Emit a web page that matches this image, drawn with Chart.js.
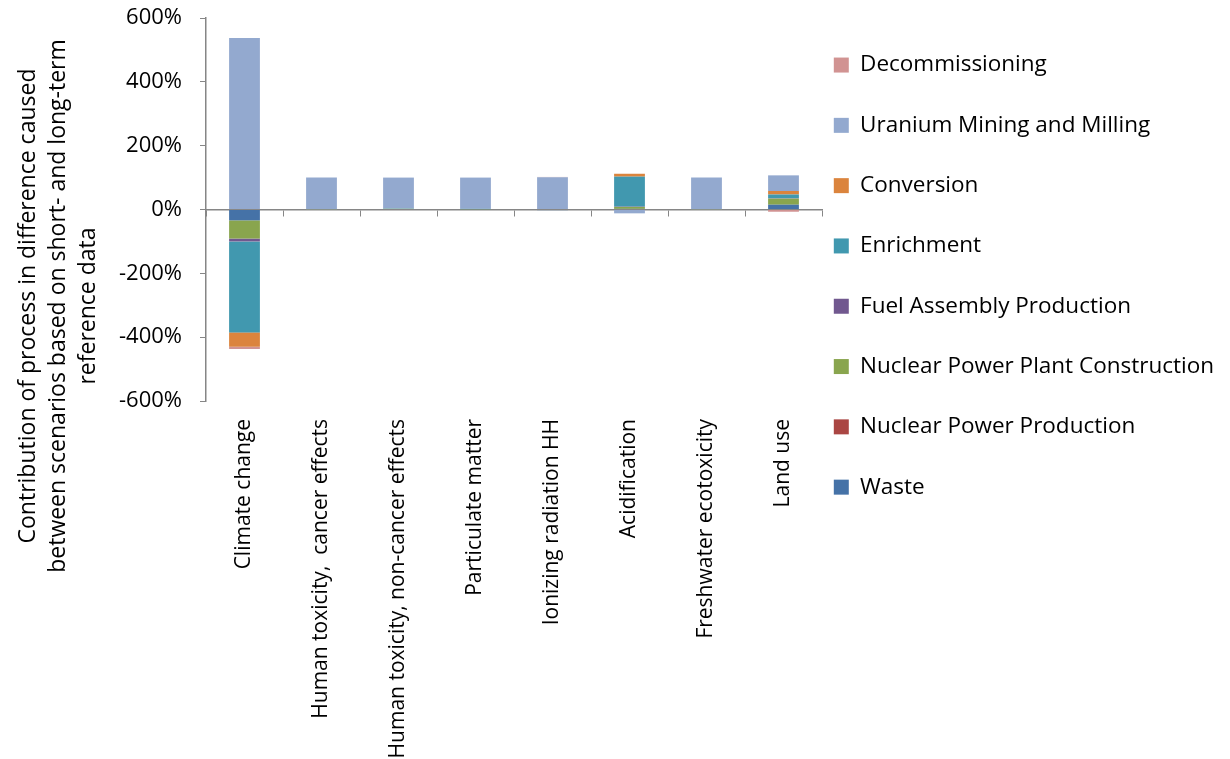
<!DOCTYPE html>
<html>
<head>
<meta charset="utf-8">
<script src="https://cdn.jsdelivr.net/npm/chart.js@4.4.1/dist/chart.umd.min.js"></script>
<style>
  html, body { margin: 0; padding: 0; background: #fff; }
  #wrap { width: 1230px; height: 759px; position: relative; }
</style>
</head>
<body>
<div id="wrap"><canvas id="chart"></canvas></div>
<script>
const categories = [
  'Climate change',
  'Human toxicity,  cancer effects',
  'Human toxicity, non-cancer effects',
  'Particulate matter',
  'Ionizing radiation HH',
  'Acidification',
  'Freshwater ecotoxicity',
  'Land use'
];

// values in %, one array per process (stack order bottom -> top)
const waste          = [-34, 0, 0, 0, -2,  2,  0, 15];
const powerProd      = [  0, 0, 0, 0,  0,  0,  0,  0];
const plantConstr    = [-57, 1, 2, 1,  0,  6,  1, 19];
const fuelAssembly   = [ -9, 0, 0, 0,  0,  1,  0,  1];
const enrichment     = [-285, 0, 1, 1, 0, 94,  0, 12];
const conversion     = [-45, 0, 0, 0,  0,  9,  0, 11];
const uraniumMining  = [537, 99, 97, 98, 101, -12, 99, 49];
const decommissioning= [ -7, 0, 0, 0,  1,  0,  0, -7];

const yTicks = [-600, -400, -200, 0, 200, 400, 600];
const yTitle = [
  'Contribution of process in difference caused',
  'between scenarios based on short- and long-term',
  'reference data'
];

const series = [
  { label: 'Waste', data: waste, color: '#4572A7' },
  { label: 'Nuclear Power Production', data: powerProd, color: '#AA4643' },
  { label: 'Nuclear Power Plant Construction', data: plantConstr, color: '#89A54E' },
  { label: 'Fuel Assembly Production', data: fuelAssembly, color: '#71588F' },
  { label: 'Enrichment', data: enrichment, color: '#4198AF' },
  { label: 'Conversion', data: conversion, color: '#DB843D' },
  { label: 'Uranium Mining and Milling', data: uraniumMining, color: '#93A9CF' },
  { label: 'Decommissioning', data: decommissioning, color: '#D19392' }
];

const FONT = 'Open Sans';
const axisGrey = '#868686';

// fixed legend width so the plot ends where the original does,
// then nudge the legend box so its items sit where the original's do
const legendPlace = {
  id: 'legendPlace',
  beforeInit(chart) {
    const fit = chart.legend.fit;
    chart.legend.fit = function () {
      fit.bind(chart.legend)();
      this.width = 408;
    };
  },
  afterLayout(chart) {
    const lg = chart.legend;
    lg.left = 796;
    lg.right = chart.width;
    lg.top = 16;
  }
};

// rotated, three line y-axis title centred like the original
const yAxisTitle = {
  id: 'yAxisTitle',
  afterDraw(chart) {
    const c = chart.ctx;
    c.save();
    c.translate(58, 306);
    c.rotate(-Math.PI / 2);
    c.font = '23px "' + FONT + '"';
    c.fillStyle = '#000';
    c.textAlign = 'center';
    c.textBaseline = 'middle';
    yTitle.forEach((t, i) => c.fillText(t, 0, (i - 1) * 30));
    c.restore();
  }
};

new Chart(document.getElementById('chart'), {
  type: 'bar',
  data: {
    labels: categories,
    datasets: series.map(s => ({
      label: s.label,
      data: s.data,
      backgroundColor: s.color,
      borderWidth: 0,
      barPercentage: 0.4,
      categoryPercentage: 1.0
    }))
  },
  options: {
    responsive: true,
    maintainAspectRatio: false,
    animation: false,
    layout: { padding: { left: 113, top: 18, right: 0, bottom: 0 } },
    plugins: {
      tooltip: { enabled: false },
      legend: {
        position: 'right',
        align: 'start',
        reverse: true,
        labels: {
          boxWidth: 15,
          boxHeight: 15,
          padding: 37.8,
          color: '#000',
          font: { family: FONT, size: 22.5 }
        }
      }
    },
    scales: {
      x: {
        stacked: true,
        afterFit(scale) { scale.height = 358; },
        grid: { display: false },
        border: { display: false },
        ticks: {
          minRotation: 90,
          maxRotation: 90,
          padding: 10,
          color: '#000',
          font: { family: FONT, size: 21 }
        }
      },
      x2: {
        type: 'category',
        position: { y: 0 },
        offset: true,
        grid: {
          offset: true,
          drawOnChartArea: false,
          drawTicks: true,
          tickLength: 6,
          color: axisGrey
        },
        border: { color: axisGrey, width: 1.5 },
        ticks: { display: false }
      },
      y: {
        stacked: true,
        min: -600,
        max: 600,
        afterFit(scale) {
          scale.width = 93;
          scale.paddingTop = 0;
          scale.paddingBottom = 0;
        },
        afterBuildTicks(scale) { scale.ticks = yTicks.map(v => ({ value: v })); },
        grid: {
          drawOnChartArea: false,
          drawTicks: true,
          tickLength: 6,
          color: axisGrey
        },
        border: { color: axisGrey, width: 1.5 },
        ticks: {
          padding: 18,
          color: '#000',
          font: { family: FONT, size: 22 },
          callback: v => v + '%'
        }
      }
    }
  },
  plugins: [legendPlace, yAxisTitle]
});
</script>
</body>
</html>
